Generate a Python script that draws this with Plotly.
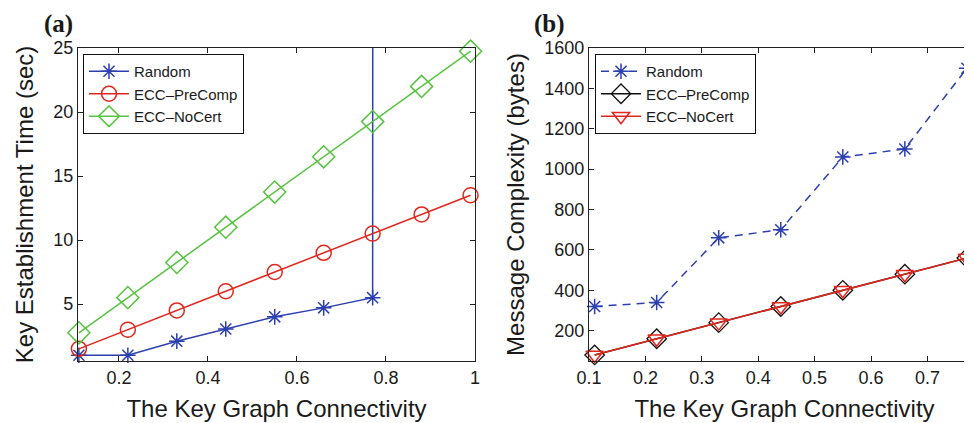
import plotly.graph_objects as go

# ---------------- data ----------------
conn = [0.11, 0.22, 0.33, 0.44, 0.55, 0.66, 0.77, 0.88, 0.99]

# (a) key establishment time (sec)
time_random = [1.0, 1.0, 2.1, 3.05, 4.0, 4.7, 5.5, 10000]     # last value is off-scale (vertical jump)
time_precomp = [1.5, 3.0, 4.5, 6.0, 7.5, 9.0, 10.5, 12.0, 13.5]
time_nocert = [2.75, 5.5, 8.25, 11.0, 13.75, 16.5, 19.25, 22.0, 24.75]

# (b) message complexity (bytes)
msg_random = [320, 340, 660, 700, 1060, 1100, 1500, 4500]       # last value is off-scale
msg_precomp = [80, 160, 240, 320, 400, 480, 560, 640, 720]
msg_nocert = [80, 160, 240, 320, 400, 480, 560, 640, 720]

xticks_a = [0.2, 0.4, 0.6, 0.8, 1.0]
xticklabels_a = ["0.2", "0.4", "0.6", "0.8", "1"]
yticks_a = [5, 10, 15, 20, 25]
xticks_b = [0.1, 0.2, 0.3, 0.4, 0.5, 0.6, 0.7]
yticks_b = [200, 400, 600, 800, 1000, 1200, 1400, 1600]

BLUE = "#2b3fae"
RED = "#e3261c"
GREEN = "#55c43f"
BLACK = "#111111"

W, H = 972, 423
OFF = 8                      # page body margin offset
L_A, R_A = 78 - OFF, 475 - OFF
L_B = 589 - OFF
TOP, BOT = 48 - OFF, 361 - OFF
PH = BOT - TOP

# panel (b) x-scale: 0.1 per 56.4 px, plot area runs to figure's right edge
XB_END = 0.1 + (W - L_B) / 564.0

FONT = "Liberation Sans, Arial, Helvetica, sans-serif"

fig = go.Figure()

# ---- panel (a)
fig.add_trace(go.Scatter(x=conn[:len(time_random)], y=time_random, name="Random",
                         mode="lines+markers", xaxis="x", yaxis="y", legend="legend",
                         line=dict(color=BLUE, width=1.5),
                         marker=dict(symbol="asterisk-open", size=13, color=BLUE,
                                     line=dict(color=BLUE, width=1.5)),
                         cliponaxis=False))
fig.add_trace(go.Scatter(x=conn, y=time_precomp, name="ECC\u2013PreComp",
                         mode="lines+markers", xaxis="x", yaxis="y", legend="legend",
                         line=dict(color=RED, width=1.5),
                         marker=dict(symbol="circle-open", size=15, color=RED,
                                     line=dict(color=RED, width=1.5)),
                         cliponaxis=False))
fig.add_trace(go.Scatter(x=conn, y=time_nocert, name="ECC\u2013NoCert",
                         mode="lines+markers", xaxis="x", yaxis="y", legend="legend",
                         line=dict(color=GREEN, width=1.5),
                         marker=dict(symbol="diamond-open", size=17, color=GREEN,
                                     line=dict(color=GREEN, width=1.5)),
                         cliponaxis=False))

# ---- panel (b)
fig.add_trace(go.Scatter(x=conn[:len(msg_random)], y=msg_random, name="Random",
                         mode="lines+markers", xaxis="x2", yaxis="y2", legend="legend2",
                         line=dict(color=BLUE, width=1.5, dash="8px,6px"),
                         marker=dict(symbol="asterisk-open", size=13, color=BLUE,
                                     line=dict(color=BLUE, width=1.5)),
                         cliponaxis=False))
fig.add_trace(go.Scatter(x=conn, y=msg_precomp, name="ECC\u2013PreComp",
                         mode="lines+markers", xaxis="x2", yaxis="y2", legend="legend2",
                         line=dict(color=BLACK, width=1.5),
                         marker=dict(symbol="diamond-open", size=15, color=BLACK,
                                     line=dict(color=BLACK, width=1.3)),
                         cliponaxis=False))
fig.add_trace(go.Scatter(x=conn, y=msg_nocert, name="ECC\u2013NoCert",
                         mode="lines+markers", xaxis="x2", yaxis="y2", legend="legend2",
                         line=dict(color=RED, width=1.5),
                         marker=dict(symbol="triangle-down-open", size=15, color=RED,
                                     line=dict(color=RED, width=1.5)),
                         cliponaxis=False))

axis_common = dict(showgrid=False, zeroline=False, showline=True, linecolor="#222222",
                   linewidth=1.2, ticks="inside", ticklen=5, tickwidth=1, tickcolor="#222222",
                   automargin=False,
                   tickfont=dict(family=FONT, size=18, color="#1a1a1a"),
                   title_font=dict(family=FONT, size=24, color="#1a1a1a"))

legend_common = dict(xanchor="left", yanchor="top", bgcolor="white", bordercolor="#111111",
                     borderwidth=1, itemwidth=40,
                     font=dict(family=FONT, size=15, color="#1a1a1a"))

fig.update_layout(
    width=W, height=H,
    margin=dict(l=0, r=0, t=TOP, b=H - BOT, autoexpand=False),
    paper_bgcolor="white", plot_bgcolor="white",
    font=dict(family=FONT, color="#1a1a1a"),
    xaxis=dict(domain=[L_A / W, R_A / W], range=[0.108, 1.0], tickvals=xticks_a,
               ticktext=xticklabels_a, mirror="ticks", anchor="y", ticklabelstandoff=0,
               title=dict(text="The Key Graph Connectivity", standoff=13), **axis_common),
    yaxis=dict(domain=[0, 1], range=[0.55, 25], tickvals=yticks_a, mirror="ticks",
               anchor="x", title=dict(text="Key Establishment Time (sec)", standoff=12),
               **axis_common),
    xaxis2=dict(domain=[L_B / W, 1.0], range=[0.1, XB_END], tickvals=xticks_b,
                ticktext=[f"{v:.1f}" for v in xticks_b], mirror="ticks", anchor="y2",
                ticklabelstandoff=0,
                title=dict(text="The Key Graph Connectivity", standoff=13), **axis_common),
    yaxis2=dict(domain=[0, 1], range=[50, 1600], tickvals=yticks_b, mirror=False,
                anchor="x2", title=dict(text="Message Complexity (bytes)", standoff=12),
                **axis_common),
    legend=dict(x=(83 - OFF) / W, y=(BOT - (54 - OFF)) / PH, **legend_common),
    legend2=dict(x=(595 - OFF) / W, y=(BOT - (54 - OFF)) / PH, **legend_common),
    annotations=[
        dict(text="<b>(a)</b>", x=(58 - OFF) / W, y=(BOT - (24 - OFF)) / PH, xref="paper",
             yref="paper", showarrow=False, xanchor="center", yanchor="middle",
             font=dict(family="Liberation Serif, Times New Roman, serif", size=25, color="#1a1a1a")),
        dict(text="<b>(b)</b>", x=(549 - OFF) / W, y=(BOT - (24 - OFF)) / PH, xref="paper",
             yref="paper", showarrow=False, xanchor="center", yanchor="middle",
             font=dict(family="Liberation Serif, Times New Roman, serif", size=25, color="#1a1a1a")),
    ],
)

fig.write_html("out.html")
